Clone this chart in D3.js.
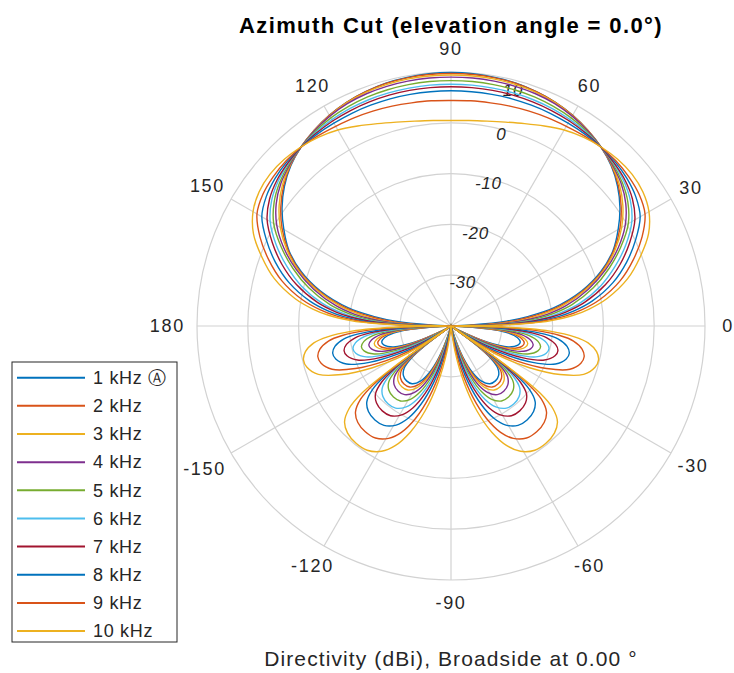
<!DOCTYPE html>
<html>
<head>
<meta charset="utf-8">
<script src="https://d3js.org/d3.v7.min.js"></script>
<style>
body { margin: 0; background: #fff; }
text { font-family: "Liberation Sans", Arial, Helvetica, sans-serif; fill: #262626; }
</style>
</head>
<body>
<div id="chart"></div>
<script>
// azimuth angles in degrees (counter-clockwise from 0), shared by every trace
const angles = [
  0,1,2,3,5,7,10,15,20,25,30,35,40,45,50,55,60,65,70,75,80,85,90,
  95,100,105,110,115,120,125,130,135,140,145,150,155,160,165,170,173,175,177,178,179,180,
  -179,-178,-177,-175,-173,-170,-167,-164,-160,-156,-152,-149,-147,-145.5,-144.5,-143,-141,-138,-134,-129,-124,-119,-115,-111,-107,-103,-99,-95,
  -90,
  -85,-81,-77,-73,-69,-65,-61,-56,-51,-46,-42,-39,-37,-35.5,-34.5,-33,-31,-28,-24,-20,-16,-13,-10,-7,-5,-3,-2,-1
];

const freqLabels = ["1 kHz \u24B6", "2 kHz", "3 kHz", "4 kHz", "5 kHz", "6 kHz", "7 kHz", "8 kHz", "9 kHz", "10 kHz"];

// directivity in dBi (anything at -40 sits on the centre)
const d1k = [
  -40,-40,-40,-36,-29,-24.8,-19.5,-13.4,-8.6,-4.8,-2.0,0.6,2.8,4.6,5.95,7.0,7.9,8.6,9.1,9.5,9.7,9.85,9.9,
  9.85,9.7,9.5,9.1,8.6,7.9,7.0,5.95,4.6,2.8,0.6,-2.0,-4.8,-8.6,-13.4,-19.5,-24.8,-29,-36,-40,-40,-40,
  -40,-40,-36.3,-31.4,-28.6,-26.7,-26,-26.3,-28,-32.3,-38.3,-40,-40,-40,-40,-33.8,-30,-27.6,-26.5,-26.1,-26.3,-27.6,-29.8,-33.4,-38.3,-40,-40,-40,
  -40,
  -40,-40,-40,-38.3,-33.4,-29.8,-27.6,-26.3,-26.1,-26.5,-27.6,-30,-33.8,-40,-40,-40,-40,-38.3,-32.3,-28,-26.3,-26,-26.7,-28.6,-31.4,-36.3,-40,-40
];
const d2k = [
  -40,-40,-35.5,-31.5,-27,-23.5,-18.8,-13.0,-8.3,-4.6,-1.6,0.9,3.0,4.7,5.95,7.0,7.9,8.6,9.1,9.45,9.6,9.7,9.7,
  9.7,9.6,9.45,9.1,8.6,7.9,7.0,5.95,4.7,3.0,0.9,-1.6,-4.6,-8.3,-13.0,-18.8,-23.5,-27,-31.5,-35.5,-40,-40,
  -40,-39.5,-35.5,-30.6,-27.8,-25.9,-25.2,-25.5,-27.2,-31.5,-37.5,-40,-40,-40,-40,-33,-29.2,-26.8,-25.7,-25.3,-25.5,-26.8,-29,-32.6,-37.5,-40,-40,-40,
  -40,
  -40,-40,-40,-37.5,-32.6,-29,-26.8,-25.5,-25.3,-25.7,-26.8,-29.2,-33,-40,-40,-40,-40,-37.5,-31.5,-27.2,-25.5,-25.2,-25.9,-27.8,-30.6,-35.5,-39.5,-40
];
const d3k = [
  -40,-40,-34,-30,-25.5,-22.3,-18,-12.6,-8.0,-4.3,-1.2,1.3,3.3,4.8,5.95,7.0,7.8,8.5,8.95,9.2,9.35,9.4,9.4,
  9.4,9.35,9.2,8.95,8.5,7.8,7.0,5.95,4.8,3.3,1.3,-1.2,-4.3,-8.0,-12.6,-18,-22.3,-25.5,-30,-34,-40,-40,
  -40,-38.8,-34.8,-29.9,-27.1,-25.2,-24.5,-24.8,-26.5,-30.8,-36.8,-40,-40,-40,-40,-32.3,-28.5,-26.1,-25,-24.6,-24.8,-26.1,-28.3,-31.9,-36.8,-40,-40,-40,
  -40,
  -40,-40,-40,-36.8,-31.9,-28.3,-26.1,-24.8,-24.6,-25,-26.1,-28.5,-32.3,-40,-40,-40,-40,-36.8,-30.8,-26.5,-24.8,-24.5,-25.2,-27.1,-29.9,-34.8,-38.8,-40
];
const d4k = [
  -40,-38.5,-32.5,-28.5,-24.2,-20.8,-17,-12.0,-7.6,-3.7,-0.4,2.0,3.7,4.9,5.95,6.9,7.7,8.3,8.65,8.85,8.95,9.0,9.0,
  9.0,8.95,8.85,8.65,8.3,7.7,6.9,5.95,4.9,3.7,2.0,-0.4,-3.7,-7.6,-12.0,-17,-20.8,-24.2,-28.5,-32.5,-38.5,-40,
  -40,-37.7,-33.7,-28.8,-26,-24.1,-23.4,-23.7,-25.4,-29.7,-35.7,-40,-40,-40,-40,-31.2,-27.4,-25,-23.9,-23.5,-23.7,-25,-27.2,-30.8,-35.7,-40,-40,-40,
  -40,
  -40,-40,-40,-35.7,-30.8,-27.2,-25,-23.7,-23.5,-23.9,-25,-27.4,-31.2,-40,-40,-40,-40,-35.7,-29.7,-25.4,-23.7,-23.4,-24.1,-26,-28.8,-33.7,-37.7,-40
];
const d5k = [
  -40,-37,-31,-27,-22.8,-19.6,-15.8,-11.0,-6.9,-3.1,0.3,2.5,4.0,5.1,5.95,6.7,7.3,7.7,8.0,8.15,8.25,8.3,8.3,
  8.3,8.25,8.15,8.0,7.7,7.3,6.7,5.95,5.1,4.0,2.5,0.3,-3.1,-6.9,-11.0,-15.8,-19.6,-22.8,-27,-31,-37,-40,
  -40,-36.2,-32.2,-27.3,-24.5,-22.6,-21.9,-22.2,-23.9,-28.2,-34.2,-39.2,-40,-40,-38.7,-29.7,-25.9,-23.5,-22.4,-22,-22.2,-23.5,-25.7,-29.3,-34.2,-40,-40,-40,
  -40,
  -40,-40,-40,-34.2,-29.3,-25.7,-23.5,-22.2,-22,-22.4,-23.5,-25.9,-29.7,-38.7,-40,-40,-39.2,-34.2,-28.2,-23.9,-22.2,-21.9,-22.6,-24.5,-27.3,-32.2,-36.2,-40
];
const d6k = [
  -40,-36,-30,-26,-21.3,-18.1,-14.3,-9.5,-5.6,-2.0,1.1,3.1,4.4,5.3,5.95,6.5,6.9,7.2,7.4,7.5,7.55,7.6,7.6,
  7.6,7.55,7.5,7.4,7.2,6.9,6.5,5.95,5.3,4.4,3.1,1.1,-2.0,-5.6,-9.5,-14.3,-18.1,-21.3,-26,-30,-36,-40,
  -40,-34.5,-30.5,-25.6,-22.8,-20.9,-20.2,-20.5,-22.2,-26.5,-32.5,-37.5,-40,-40,-37,-28,-24.2,-21.8,-20.7,-20.3,-20.5,-21.8,-24,-27.6,-32.5,-38.5,-40,-40,
  -40,
  -40,-40,-38.5,-32.5,-27.6,-24,-21.8,-20.5,-20.3,-20.7,-21.8,-24.2,-28,-37,-40,-40,-37.5,-32.5,-26.5,-22.2,-20.5,-20.2,-20.9,-22.8,-25.6,-30.5,-34.5,-40
];
const d7k = [
  -40,-35,-29,-25,-20.3,-17.1,-13.3,-8.5,-4.6,-1.2,1.8,3.6,4.7,5.4,5.95,6.3,6.6,6.8,6.95,7.05,7.1,7.1,7.1,
  7.1,7.1,7.05,6.95,6.8,6.6,6.3,5.95,5.4,4.7,3.6,1.8,-1.2,-4.6,-8.5,-13.3,-17.1,-20.3,-25,-29,-35,-40,
  -39.2,-32.7,-28.7,-23.8,-21,-19.1,-18.4,-18.7,-20.4,-24.7,-30.7,-35.7,-40,-40,-35.2,-26.2,-22.4,-20,-18.9,-18.5,-18.7,-20,-22.2,-25.8,-30.7,-36.7,-40,-40,
  -40,
  -40,-40,-36.7,-30.7,-25.8,-22.2,-20,-18.7,-18.5,-18.9,-20,-22.4,-26.2,-35.2,-40,-40,-35.7,-30.7,-24.7,-20.4,-18.7,-18.4,-19.1,-21,-23.8,-28.7,-32.7,-39.2
];
const d8k = [
  -40,-34,-27.5,-23.5,-18.8,-15.6,-11.8,-7.0,-3.2,0.1,3.0,4.4,5.2,5.7,5.95,6.05,6.1,6.2,6.25,6.3,6.3,6.3,6.3,
  6.3,6.3,6.3,6.25,6.2,6.1,6.05,5.95,5.7,5.2,4.4,3.0,0.1,-3.2,-7.0,-11.8,-15.6,-18.8,-23.5,-27.5,-34,-40,
  -36.9,-30.4,-26.4,-21.5,-18.7,-16.8,-16.1,-16.4,-18.1,-22.4,-28.4,-33.4,-37.9,-40,-32.9,-23.9,-20.1,-17.7,-16.6,-16.2,-16.4,-17.7,-19.9,-23.5,-28.4,-34.4,-40,-40,
  -40,
  -40,-40,-34.4,-28.4,-23.5,-19.9,-17.7,-16.4,-16.2,-16.6,-17.7,-20.1,-23.9,-32.9,-40,-37.9,-33.4,-28.4,-22.4,-18.1,-16.4,-16.1,-16.8,-18.7,-21.5,-26.4,-30.4,-36.9
];
const d9k = [
  -40,-32.5,-26,-22,-17.3,-14.1,-10.3,-5.5,-1.8,1.5,4.1,5.2,5.7,5.95,5.95,5.7,5.4,5.2,5.0,4.8,4.6,4.5,4.4,
  4.5,4.6,4.8,5.0,5.2,5.4,5.7,5.95,5.95,5.7,5.2,4.1,1.5,-1.8,-5.5,-10.3,-14.1,-17.3,-22,-26,-32.5,-40,
  -33.9,-27.4,-23.4,-18.5,-15.7,-13.8,-13.1,-13.4,-15.1,-19.4,-25.4,-30.4,-34.9,-40,-29.9,-20.9,-17.1,-14.7,-13.6,-13.2,-13.4,-14.7,-16.9,-20.5,-25.4,-31.4,-37.9,-40,
  -40,
  -40,-37.9,-31.4,-25.4,-20.5,-16.9,-14.7,-13.4,-13.2,-13.6,-14.7,-17.1,-20.9,-29.9,-40,-34.9,-30.4,-25.4,-19.4,-15.1,-13.4,-13.1,-13.8,-15.7,-18.5,-23.4,-27.4,-33.9
];
const d10k = [
  -40,-31,-24.5,-20.5,-15.8,-12.6,-8.8,-4.0,-0.4,2.9,5.0,6.1,6.5,6.4,6.0,5.4,4.55,3.45,2.4,1.55,0.95,0.6,0.45,
  0.6,0.95,1.55,2.4,3.45,4.55,5.4,6.0,6.4,6.5,6.1,5.0,2.9,-0.4,-4.0,-8.8,-12.6,-15.8,-20.5,-24.5,-31,-40,
  -31,-24.5,-20.5,-15.6,-12.8,-10.9,-10.2,-10.5,-12.2,-16.5,-22.5,-27.5,-32,-40,-27,-18,-14.2,-11.8,-10.7,-10.3,-10.5,-11.8,-14.0,-17.6,-22.5,-28.5,-35,-40,
  -40,
  -40,-35,-28.5,-22.5,-17.6,-14.0,-11.8,-10.5,-10.3,-10.7,-11.8,-14.2,-18,-27,-40,-32,-27.5,-22.5,-16.5,-12.2,-10.5,-10.2,-10.9,-12.8,-15.6,-20.5,-24.5,-31
];

const allSeries = [d1k, d2k, d3k, d4k, d5k, d6k, d7k, d8k, d9k, d10k];

// matlab default line colours (they wrap after 7)
const colors = ["#0072BD", "#D95319", "#EDB120", "#7E2F8E", "#77AC30", "#4DBEEE", "#A2142F", "#0072BD", "#D95319", "#EDB120"];

const magTicks = [-30, -20, -10, 0, 10];
const angleTicks = [0, 30, 60, 90, 120, 150, 180, -150, -120, -90, -60, -30];

allSeries.forEach((s, i) => {
  if (s.length != angles.length) console.error("length mismatch", freqLabels[i], s.length, angles.length);
});

const width = 734, height = 673;
const cx = 451, cy = 326, R = 254;

const svg = d3.select("#chart")
  .append("svg")
    .attr("width", width)
    .attr("height", height);

// radius scale: -40 dB at the centre, 10 dB on the outer ring
const r = d3.scaleLinear()
  .domain([-40, 10])
  .range([0, R])
  .clamp(true);

const rad = d => d * Math.PI / 180;

const g = svg.append("g")
  .attr("transform", `translate(${cx},${cy})`);

// rings
g.selectAll(".ring")
  .data(magTicks)
  .join("circle")
    .attr("class", "ring")
    .attr("r", d => r(d))
    .attr("fill", "none")
    .attr("stroke", "#d2d2d2")
    .attr("stroke-width", 1.2);

// spokes
g.selectAll(".spoke")
  .data(angleTicks)
  .join("line")
    .attr("class", "spoke")
    .attr("x1", 0).attr("y1", 0)
    .attr("x2", d => r(10) * Math.cos(rad(d)))
    .attr("y2", d => -r(10) * Math.sin(rad(d)))
    .attr("stroke", "#d2d2d2")
    .attr("stroke-width", 1.2);

// angle labels, wide ones pushed out a little more
g.selectAll(".alabel")
  .data(angleTicks)
  .join("text")
    .attr("class", "alabel")
    .attr("text-anchor", "middle")
    .attr("dy", "0.35em")
    .style("font-size", "18px")
    .style("letter-spacing", "1.7px")
    .text(d => d)
    .each(function(d) {
      const w = this.getComputedTextLength();
      const a = rad(d);
      const rr = R + 23 + Math.max(0, Math.abs(Math.cos(a)) * w / 2 - 11);
      d3.select(this)
        .attr("x", rr * Math.cos(a))
        .attr("y", -rr * Math.sin(a));
    });

// magnitude labels along ~75 deg
const magAngle = rad(75.3);
g.selectAll(".mlabel")
  .data(magTicks)
  .join("text")
    .attr("class", "mlabel")
    .attr("text-anchor", "middle")
    .attr("dy", "0.35em")
    .style("font-size", "17px")
    .style("font-style", "italic")
    .style("letter-spacing", "0.8px")
    .attr("x", d => (r(d) - (d == 10 ? 10 : 5)) * Math.cos(magAngle))
    .attr("y", d => -(r(d) - (d == 10 ? 10 : 5)) * Math.sin(magAngle))
    .text(d => d);

// the traces
const line = d3.lineRadial()
  .angle(d => rad(90 - d[0]))
  .radius(d => r(d[1]))
  .curve(d3.curveCatmullRomClosed.alpha(0.5));

g.selectAll(".trace")
  .data(allSeries)
  .join("path")
    .attr("class", "trace")
    .attr("fill", "none")
    .attr("stroke", (d, i) => colors[i])
    .attr("stroke-width", 1.4)
    .attr("d", d => line(d.map((v, k) => [angles[k], v])));

// title and bottom caption
svg.append("text")
  .attr("x", cx)
  .attr("y", 33)
  .attr("text-anchor", "middle")
  .style("font-size", "22px")
  .style("font-weight", "bold")
  .style("letter-spacing", "1.4px")
  .style("fill", "#000")
  .text("Azimuth Cut (elevation angle = 0.0\u00B0)");

svg.append("text")
  .attr("x", cx)
  .attr("y", 666)
  .attr("text-anchor", "middle")
  .style("font-size", "21px")
  .style("letter-spacing", "1.1px")
  .text("Directivity (dBi), Broadside at 0.00 \u00B0");

// legend
const legend = svg.append("g")
  .attr("transform", "translate(12,362)");

legend.append("rect")
  .attr("width", 165)
  .attr("height", 280)
  .attr("fill", "#fff")
  .attr("stroke", "#262626")
  .attr("stroke-width", 1);

const items = legend.selectAll(".legend-item")
  .data(freqLabels)
  .join("g")
    .attr("class", "legend-item")
    .attr("transform", (d, i) => `translate(0,${15.7 + i * 28.15})`);

items.append("line")
  .attr("x1", 5).attr("x2", 73)
  .attr("stroke", (d, i) => colors[i])
  .attr("stroke-width", 2);

items.append("text")
  .attr("x", 81)
  .attr("dy", "0.35em")
  .style("font-size", "18px")
  .style("letter-spacing", "0.7px")
  .text(d => d);
</script>
</body>
</html>
